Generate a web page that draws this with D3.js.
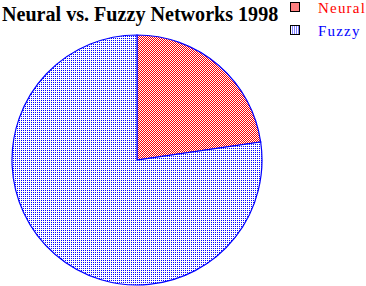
<!DOCTYPE html>
<html>
<head>
<meta charset="utf-8">
<script src="https://cdn.jsdelivr.net/npm/d3@7"></script>
<style>
  body { margin: 0; background: #fff; }
  svg { display: block; }
</style>
</head>
<body>
<div id="chart"></div>
<script>
var title = "Neural vs. Fuzzy Networks 1998";
var categories = ["Neural", "Fuzzy"];
var values = [22.7, 77.3];
var colors = ["#ff0000", "#0000ff"];

var w = 366,
    h = 286,
    cx = 137,
    cy = 160,
    r = 125;

var svg = d3.select("#chart")
  .append("svg")
  .attr("width", w)
  .attr("height", h);

var defs = svg.append("defs");

// red checkerboard
var p1 = defs.append("pattern")
  .attr("id", "pat0")
  .attr("patternUnits", "userSpaceOnUse")
  .attr("width", 2).attr("height", 2);
p1.append("rect").attr("width", 2).attr("height", 2).attr("fill", "#fff");
p1.append("rect").attr("width", 1).attr("height", 1).attr("fill", colors[0]);
p1.append("rect").attr("x", 1).attr("y", 1).attr("width", 1).attr("height", 1).attr("fill", colors[0]);

// blue dots
var p2 = defs.append("pattern")
  .attr("id", "pat1")
  .attr("patternUnits", "userSpaceOnUse")
  .attr("width", 2).attr("height", 2);
p2.append("rect").attr("width", 2).attr("height", 2).attr("fill", "#fff");
p2.append("rect").attr("width", 1).attr("height", 1).attr("fill", colors[1]);

svg.append("text")
  .attr("x", 2)
  .attr("y", 21)
  .attr("font-family", "Liberation Serif, serif")
  .attr("font-weight", "bold")
  .attr("font-size", 20.1)
  .text(title);

var pie = d3.pie().sort(null).value(function(d) { return d; });
var arc = d3.arc().innerRadius(0).outerRadius(r);

svg.append("g")
  .attr("transform", "translate(" + cx + "," + cy + ")")
  .selectAll("path")
  .data(pie(values))
  .enter()
  .append("path")
  .attr("d", arc)
  .attr("fill", function(d, i) { return "url(#pat" + i + ")"; })
  .attr("stroke", "#0000ff")
  .attr("stroke-width", 1.2);

var legend = svg.append("g")
  .selectAll("g")
  .data(categories)
  .enter()
  .append("g")
  .attr("transform", function(d, i) { return "translate(290," + (1.5 + i * 23) + ")"; });

legend.append("rect")
  .attr("x", 0.5)
  .attr("y", 0.5)
  .attr("width", 9)
  .attr("height", 9)
  .attr("fill", function(d, i) { return "url(#pat" + i + ")"; })
  .attr("stroke", "#000")
  .attr("shape-rendering", "crispEdges");

legend.append("text")
  .attr("x", 28)
  .attr("y", 11)
  .attr("font-family", "Liberation Serif, serif")
  .attr("font-size", 15)
  .attr("letter-spacing", 1.2)
  .attr("fill", function(d, i) { return colors[i]; })
  .text(function(d) { return d; });
</script>
</body>
</html>
